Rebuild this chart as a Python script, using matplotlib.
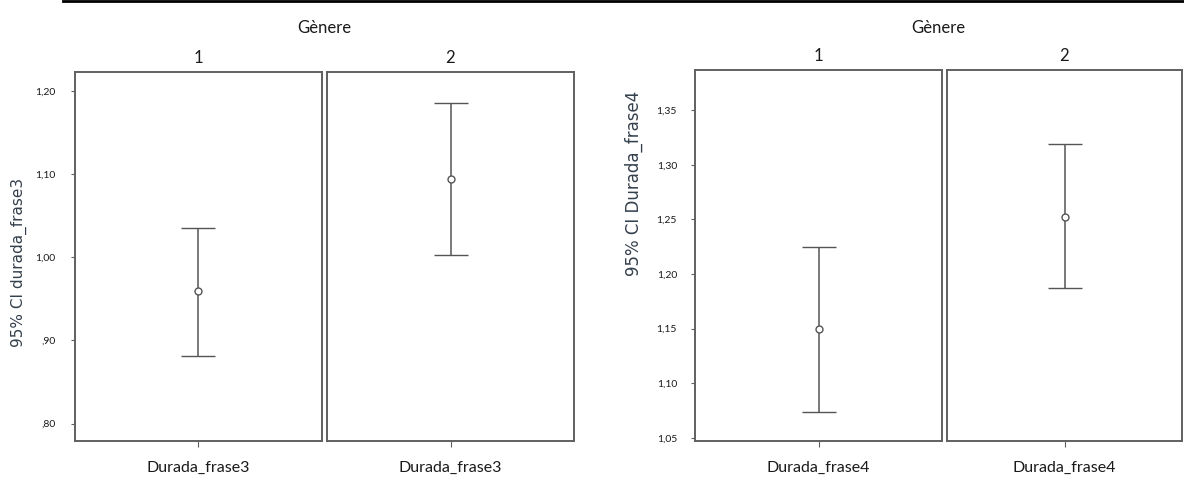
import matplotlib
matplotlib.use("Agg")
import matplotlib.pyplot as plt
from matplotlib.lines import Line2D
from matplotlib.ticker import FixedLocator, FuncFormatter

# Group levels of the panel variable
groups = ["1", "2"]
panel_var = "Gènere"

# Sentence 3: means and 95% confidence limits per group
frase3_var = "Durada_frase3"
frase3_ylabel = "95% CI durada_frase3"
frase3_mean = [0.959, 1.094]
frase3_lower = [0.881, 1.003]
frase3_upper = [1.035, 1.186]
frase3_ticks = [0.80, 0.90, 1.00, 1.10, 1.20]
frase3_ylim = (0.779, 1.223)

# Sentence 4: means and 95% confidence limits per group
frase4_var = "Durada_frase4"
frase4_ylabel = "95% CI Durada_frase4"
frase4_mean = [1.150, 1.2525]
frase4_lower = [1.074, 1.187]
frase4_upper = [1.225, 1.319]
frase4_ticks = [1.05, 1.10, 1.15, 1.20, 1.25, 1.30, 1.35]
frase4_ylim = (1.047, 1.387)

W, H = 1184, 482
fig = plt.figure(figsize=(W / 100, H / 100), dpi=100)
fig.patch.set_facecolor("white")

BOX = "#606060"
BAR = "#555555"
TXT = "#1a1a1a"
LAB = "#34404c"
FONT = ["Lato", "DejaVu Sans"]


def comma_fmt(v, _pos=None):
    s = f"{v:.2f}".replace(".", ",")
    if s.startswith("0,"):
        s = s[1:]
    return s


def draw_block(panels, top_px, bottom_px, var, ylabel, ylabel_xy, ylabel_size,
               mean, lower, upper, ticks, ylim, label_pad):
    y0 = 1 - bottom_px / H
    h = (bottom_px - top_px) / H
    for i, (lx, wd) in enumerate(panels):
        ax = fig.add_axes([lx / W, y0, wd / W, h])
        m = mean[i]
        ax.errorbar([0], [m], yerr=[[m - lower[i]], [upper[i] - m]],
                    fmt="o", mfc="white", mec=BAR, ms=5, mew=1.0,
                    ecolor=BAR, elinewidth=1.1, capsize=12, capthick=1.4)
        ax.set_xlim(-1, 1)
        ax.set_ylim(*ylim)
        for sp in ax.spines.values():
            sp.set_color(BOX)
            sp.set_linewidth(1.4)
        ax.set_xticks([0])
        ax.set_xticklabels([var], fontsize=11.5, family=FONT, color=TXT)
        ax.tick_params(axis="x", length=4, color=BOX, pad=10)
        if i == 0:
            ax.yaxis.set_major_locator(FixedLocator(ticks))
            ax.yaxis.set_major_formatter(FuncFormatter(comma_fmt))
            ax.tick_params(axis="y", length=3, color=BOX, labelsize=7.5,
                           pad=label_pad, labelcolor=TXT)
            for t in ax.get_yticklabels():
                t.set_family(FONT)
        else:
            ax.set_yticks([])
        ax.annotate(groups[i], xy=(0.5, 1), xycoords="axes fraction",
                    xytext=(0, 10), textcoords="offset points",
                    ha="center", va="center", fontsize=12, family=FONT, color=TXT)
    # panel variable name centred over both panels
    cx = (panels[0][0] + panels[1][0] + panels[1][1]) / 2 / W
    fig.text(cx, 1 - 28 / H, panel_var, ha="center", va="center",
             fontsize=12, family=FONT, color=TXT)
    fig.text(ylabel_xy[0] / W, 1 - ylabel_xy[1] / H, ylabel, rotation=90,
             ha="center", va="center", fontsize=ylabel_size,
             family="DejaVu Sans", color=LAB)


draw_block([(75, 247), (327, 247)], 72, 441, frase3_var, frase3_ylabel, (19, 262), 11,
           frase3_mean, frase3_lower, frase3_upper, frase3_ticks, frase3_ylim, 11)
draw_block([(695, 247), (947, 235)], 70, 441, frase4_var, frase4_ylabel, (634, 183), 12,
           frase4_mean, frase4_lower, frase4_upper, frase4_ticks, frase4_ylim, 10)

# rule across the top of the page
fig.add_artist(Line2D([63 / W, 1.0], [1 - 1.2 / H, 1 - 1.2 / H], color="black", lw=2))

fig.savefig("out.png", dpi=100, facecolor="white")
